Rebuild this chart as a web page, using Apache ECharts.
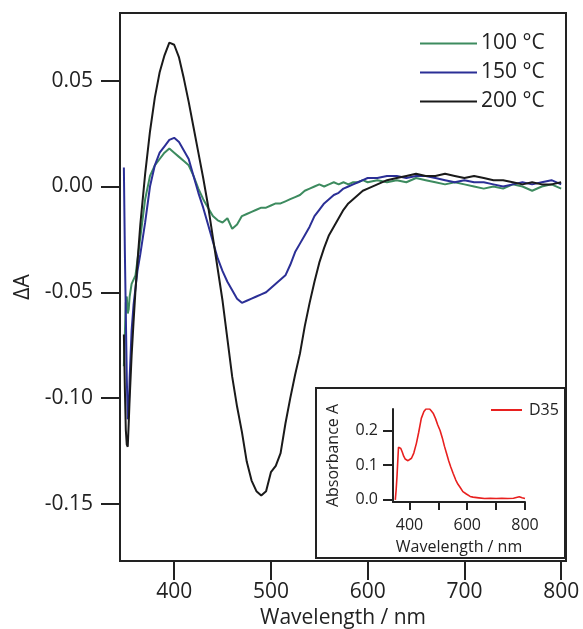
<!DOCTYPE html>
<html>
<head>
<meta charset="utf-8">
<script src="https://cdn.jsdelivr.net/npm/echarts@6/dist/echarts.min.js"></script>
<style>
  html, body { margin: 0; padding: 0; background: #fff; }
  #main { width: 583px; height: 629px; }
</style>
</head>
<body>
<div id="main"></div>
<script>
// wavelength grid (nm) for the three difference spectra
var wl = [348, 349, 350, 351, 352, 353, 354, 356, 358, 360, 362,
  365, 370, 375, 380, 385, 390, 395, 400, 405, 410, 415, 420, 425, 430, 435, 440,
  445, 450, 455, 460, 465, 470, 475, 480, 485, 490, 495, 500, 505, 510, 515, 520,
  525, 530, 535, 540, 545, 550, 555, 560, 565, 570, 575, 580, 585, 590, 595, 600,
  610, 620, 630, 640, 650, 660, 670, 680, 690, 700, 710, 720, 730, 740, 750, 760,
  770, 780, 790, 800];

var dA100 = [-0.085, -0.070, -0.055, -0.052, -0.060, -0.058, -0.052, -0.046, -0.044, -0.042, -0.035,
  -0.024, -0.006, 0.005, 0.010, 0.013, 0.016, 0.018, 0.016, 0.014, 0.012, 0.010, 0.005, -0.001, -0.006, -0.010, -0.014,
  -0.016, -0.017, -0.015, -0.020, -0.018, -0.014, -0.013, -0.012, -0.011, -0.010, -0.010, -0.009, -0.008, -0.008, -0.007, -0.006,
  -0.005, -0.004, -0.002, -0.001, 0.000, 0.001, 0.000, 0.001, 0.002, 0.001, 0.002, 0.001, 0.002, 0.002, 0.003, 0.002,
  0.003, 0.002, 0.003, 0.002, 0.004, 0.003, 0.002, 0.001, 0.002, 0.001, 0.000, -0.001, 0.000, -0.001, 0.001, 0.000,
  -0.002, 0.000, 0.001, -0.001];

var dA150 = [0.009, -0.030, -0.060, -0.090, -0.110, -0.108, -0.090, -0.068, -0.056, -0.048, -0.040,
  -0.032, -0.017, 0.000, 0.010, 0.016, 0.019, 0.022, 0.023, 0.021, 0.017, 0.013, 0.005, -0.003, -0.010, -0.018, -0.026,
  -0.034, -0.040, -0.045, -0.049, -0.053, -0.055, -0.054, -0.053, -0.052, -0.051, -0.050, -0.048, -0.046, -0.044, -0.042, -0.037,
  -0.031, -0.027, -0.023, -0.019, -0.014, -0.011, -0.008, -0.006, -0.004, -0.003, -0.001, 0.000, 0.001, 0.002, 0.003, 0.004,
  0.004, 0.005, 0.005, 0.004, 0.005, 0.005, 0.004, 0.003, 0.002, 0.003, 0.002, 0.002, 0.001, 0.000, 0.001, 0.002,
  0.001, 0.002, 0.003, 0.001];

var dA200 = [-0.070, -0.095, -0.115, -0.122, -0.123, -0.112, -0.100, -0.080, -0.064, -0.049, -0.036,
  -0.018, 0.006, 0.026, 0.042, 0.054, 0.062, 0.068, 0.067, 0.061, 0.051, 0.040, 0.028, 0.016, 0.004, -0.009, -0.024,
  -0.039, -0.054, -0.072, -0.090, -0.104, -0.116, -0.130, -0.139, -0.144, -0.146, -0.144, -0.135, -0.132, -0.126, -0.112, -0.100,
  -0.089, -0.079, -0.066, -0.055, -0.045, -0.036, -0.029, -0.023, -0.019, -0.015, -0.011, -0.008, -0.006, -0.004, -0.002, -0.001,
  0.001, 0.003, 0.004, 0.005, 0.006, 0.005, 0.005, 0.006, 0.005, 0.004, 0.005, 0.004, 0.003, 0.003, 0.002, 0.001,
  0.002, 0.001, 0.001, 0.002];

// inset: absorbance of D35
var absWl = [351, 354, 357, 360, 362, 365, 370, 375, 380, 385, 390, 395, 400, 407, 415, 424, 432, 441,
  450, 457, 463, 470, 476, 482, 490, 498, 506, 514, 521, 528, 536, 543, 551, 560, 568, 574, 585, 597,
  610, 620, 640, 660, 680, 700, 720, 740, 760, 780, 790, 800];
var absVal = [0.000, 0.030, 0.070, 0.120, 0.152, 0.154, 0.148, 0.138, 0.126, 0.118, 0.115, 0.113, 0.115, 0.120, 0.135, 0.163, 0.195, 0.235,
  0.255, 0.262, 0.264, 0.262, 0.256, 0.250, 0.235, 0.216, 0.200, 0.178, 0.155, 0.135, 0.112, 0.095, 0.077, 0.058, 0.045, 0.038, 0.024, 0.017,
  0.010, 0.008, 0.006, 0.004, 0.005, 0.004, 0.005, 0.004, 0.005, 0.009, 0.006, 0.004];

var mainXTicks = [400, 500, 600, 700, 800];
var mainYTicks = [-0.15, -0.10, -0.05, 0.00, 0.05];
var insetXLabels = [400, 600, 800];
var insetXTicks = [400, 500, 600, 700, 800];
var insetYTicks = [0.0, 0.1, 0.2];

var seriesNames = ['100 °C', '150 °C', '200 °C'];
var seriesColors = ['#3d8b5f', '#2b2f96', '#1a1a1a'];

function pairs(xs, ys) {
  return xs.map(function (x, i) { return [x, ys[i]]; });
}

var FONT = 'Open Sans';
var INK = '#222';

var chartDom = document.getElementById('main');
var myChart = echarts.init(chartDom, null, { renderer: 'canvas' });
var option;

option = {
  backgroundColor: '#fff',
  animation: false,
  textStyle: { fontFamily: FONT },
  grid: [
    {
      left: 120, top: 13, width: 446, height: 548, outerBoundsMode: 'none',
      show: true, borderColor: INK, borderWidth: 2, backgroundColor: 'transparent'
    },
    { left: 393, top: 409, width: 132, height: 93, outerBoundsMode: 'none' }
  ],
  graphic: [
    {
      type: 'rect',
      z: -1,
      shape: { x: 316, y: 388, width: 249, height: 170 },
      style: { fill: '#fff', stroke: INK, lineWidth: 2 }
    }
  ],
  legend: [
    {
      data: seriesNames,
      orient: 'vertical',
      left: 420,
      top: 33,
      padding: 0,
      icon: 'rect',
      itemWidth: 57,
      itemHeight: 2,
      itemGap: 8,
      textStyle: { color: INK, fontSize: 21, fontFamily: FONT, padding: [0, 0, 0, -1] }
    },
    {
      data: ['D35'],
      orient: 'vertical',
      left: 491,
      top: 402,
      padding: 0,
      icon: 'rect',
      itemWidth: 31,
      itemHeight: 2,
      textStyle: { color: INK, fontSize: 16, fontFamily: FONT, padding: [0, 0, 0, 2] }
    }
  ],
  xAxis: [
    {
      type: 'value',
      gridIndex: 0,
      min: 344,
      max: 805,
      name: 'Wavelength / nm',
      nameLocation: 'middle',
      nameGap: 42,
      nameTextStyle: { color: INK, fontSize: 21, fontFamily: FONT },
      splitLine: { show: false },
      axisLine: { show: true, onZero: false, lineStyle: { color: INK, width: 2 } },
      axisTick: { show: true, inside: false, length: 19, lineStyle: { color: INK, width: 2 }, customValues: mainXTicks },
      axisLabel: { color: INK, fontSize: 21, margin: 21, customValues: mainXTicks, fontFamily: FONT }
    },
    {
      // tick marks of the main wavelength axis
      type: 'value',
      gridIndex: 0,
      min: 344,
      max: 805,
      position: 'bottom',
      offset: 0,
      splitLine: { show: false },
      axisLine: { show: true, onZero: false, lineStyle: { color: INK, width: 2 } },
      axisTick: { show: true, inside: false, length: 19, lineStyle: { color: INK, width: 2 }, customValues: mainXTicks },
      axisLabel: { show: false }
    },
    {
      type: 'value',
      gridIndex: 1,
      min: 343,
      max: 800,
      name: 'Wavelength / nm',
      nameLocation: 'middle',
      nameGap: 37,
      nameTextStyle: { color: INK, fontSize: 16, fontFamily: FONT },
      splitLine: { show: false },
      axisLine: { show: true, onZero: false, lineStyle: { color: INK, width: 2 } },
      axisTick: { show: true, inside: false, length: 8, lineStyle: { color: INK, width: 2 }, customValues: insetXTicks },
      axisLabel: { color: INK, fontSize: 16, margin: 15, customValues: insetXLabels, fontFamily: FONT }
    }
  ],
  yAxis: [
    {
      type: 'value',
      gridIndex: 0,
      min: -0.177,
      max: 0.082,
      name: 'ΔA',
      nameLocation: 'middle',
      nameGap: 80,
      nameTextStyle: { color: INK, fontSize: 21, fontFamily: FONT },
      splitLine: { show: false },
      axisLine: { show: true, onZero: false, lineStyle: { color: INK, width: 2 } },
      axisTick: { show: true, inside: false, length: 19, lineStyle: { color: INK, width: 2 }, customValues: mainYTicks },
      axisLabel: {
        color: INK, fontSize: 21, margin: 27, customValues: mainYTicks, fontFamily: FONT,
        formatter: function (v) { return v.toFixed(2); }
      }
    },
    {
      type: 'value',
      gridIndex: 1,
      min: -0.006,
      max: 0.262,
      name: 'Absorbance A',
      nameLocation: 'middle',
      nameGap: 52,
      nameTextStyle: { color: INK, fontSize: 16, fontFamily: FONT },
      splitLine: { show: false },
      axisLine: { show: true, onZero: false, lineStyle: { color: INK, width: 2 } },
      axisTick: { show: true, inside: false, length: 10, lineStyle: { color: INK, width: 2 }, customValues: insetYTicks },
      axisLabel: {
        color: INK, fontSize: 16, margin: 15, customValues: insetYTicks, fontFamily: FONT,
        formatter: function (v) { return v.toFixed(1); }
      }
    }
  ],
  series: [
    {
      name: seriesNames[0], type: 'line', xAxisIndex: 0, yAxisIndex: 0,
      symbol: 'none', data: pairs(wl, dA100), z: 3,
      lineStyle: { color: seriesColors[0], width: 2 }, itemStyle: { color: seriesColors[0] }
    },
    {
      name: seriesNames[1], type: 'line', xAxisIndex: 0, yAxisIndex: 0,
      symbol: 'none', data: pairs(wl, dA150), z: 4,
      lineStyle: { color: seriesColors[1], width: 2 }, itemStyle: { color: seriesColors[1] }
    },
    {
      name: seriesNames[2], type: 'line', xAxisIndex: 0, yAxisIndex: 0,
      symbol: 'none', data: pairs(wl, dA200), z: 5,
      lineStyle: { color: seriesColors[2], width: 2 }, itemStyle: { color: seriesColors[2] }
    },
    {
      name: 'D35', type: 'line', xAxisIndex: 2, yAxisIndex: 1,
      symbol: 'none', data: pairs(absWl, absVal),
      lineStyle: { color: '#e8201f', width: 1.6 }, itemStyle: { color: '#e8201f' }
    }
  ]
};

option && myChart.setOption(option);
window.addEventListener('resize', function () {
  myChart.resize();
});
</script>
</body>
</html>
